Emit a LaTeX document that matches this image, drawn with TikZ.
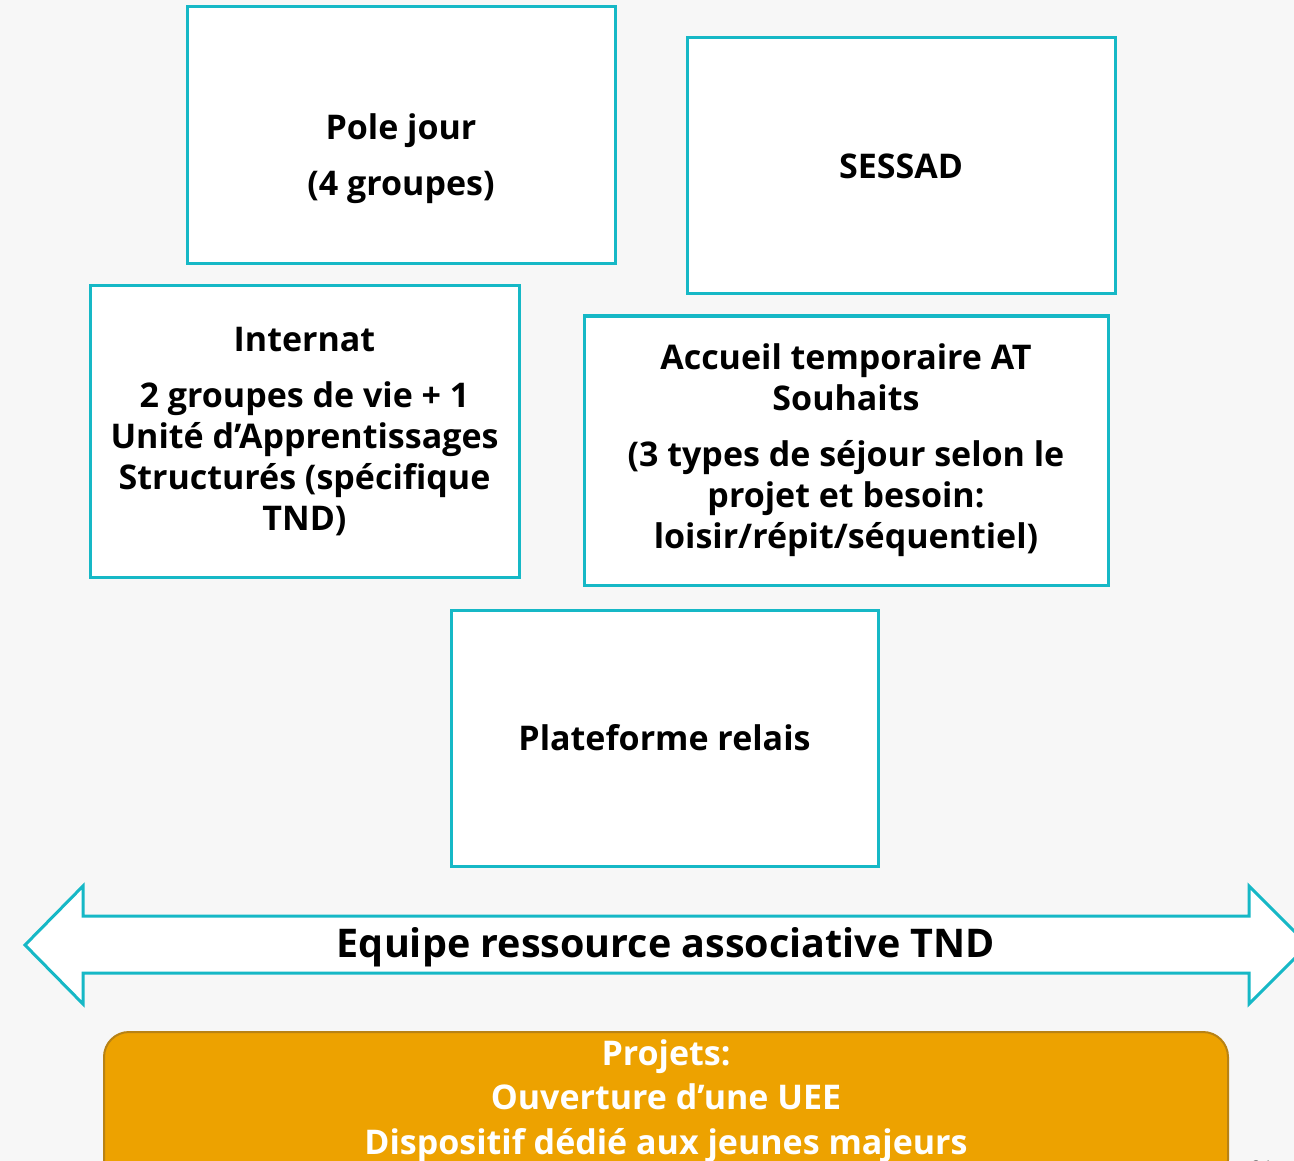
\documentclass[tikz,border=0pt]{standalone}
\usepackage{fontspec}
\setmainfont{Open Sans}
\definecolor{tealline}{RGB}{22,184,198}
\definecolor{pagebg}{RGB}{247,247,247}
\definecolor{projfill}{RGB}{237,162,0}
\definecolor{projline}{RGB}{184,130,20}
\begin{document}
\begin{tikzpicture}[
                x=1pt, y=-1pt,
                box/.style={draw=tealline, line width=3pt, fill=white, inner sep=0pt},
                txt/.style={align=center, font=\bfseries\fontsize{34}{41}\selectfont, inner sep=0pt},
                bigtxt/.style={font=\bfseries\fontsize{39.5}{41}\selectfont, inner sep=0pt},
                projtxt/.style={align=center, text=white, font=\bfseries\fontsize{34}{44.5}\selectfont, inner sep=0pt}
            ]

            \clip (0,0) rectangle (1294,1161);
            \fill[pagebg] (0,0) rectangle (1294,1161);

            % boxes
            \node[box, minimum width=428pt, minimum height=257pt] (pole) at (401,135.5) {};
            \node[txt] (poletxt) at (401,159) {Pole jour\\[15pt](4 groupes)};

            \node[box, minimum width=428pt, minimum height=256pt, txt] (sessad) at (901,166) {SESSAD};

            \node[box, minimum width=429pt, minimum height=291pt, txt] (internat) at (304.5,431.5)
                {Internat\\[15pt]2 groupes de vie + 1\\Unité d’Apprentissages\\Structurés (spécifique\\TND)};

            \node[box, minimum width=524pt, minimum height=269pt, txt] (accueil) at (846,450.5)
                {Accueil temporaire AT\\Souhaits\\[15pt](3 types de séjour selon le\\projet et besoin:\\loisir/répit/séquentiel)};

            \node[box, minimum width=427pt, minimum height=256pt, txt] (relais) at (664.5,738) {Plateforme relais};

            % double arrow
            \draw[tealline, line width=3pt, fill=white, line join=miter]
                (25,945) -- (83,886) -- (83,916) -- (1249,916) -- (1249,886) -- (1308,945)
                -- (1249,1004) -- (1249,973) -- (83,973) -- (83,1004) -- cycle;
            \node[bigtxt] (equipe) at (666,947) {Equipe ressource associative TND};

            % projets
            \draw[projline, fill=projfill, line width=2pt, rounded corners=25pt] (104,1032) rectangle (1228,1185);
            \node[projtxt] (projets) at (666,1101) {Projets:\\Ouverture d’une UEE\\Dispositif dédié aux jeunes majeurs};

            \node[font=\fontsize{20}{24}\selectfont, inner sep=0pt] (pagenum) at (1262,1168) {21};

        \end{tikzpicture}
\end{document}
